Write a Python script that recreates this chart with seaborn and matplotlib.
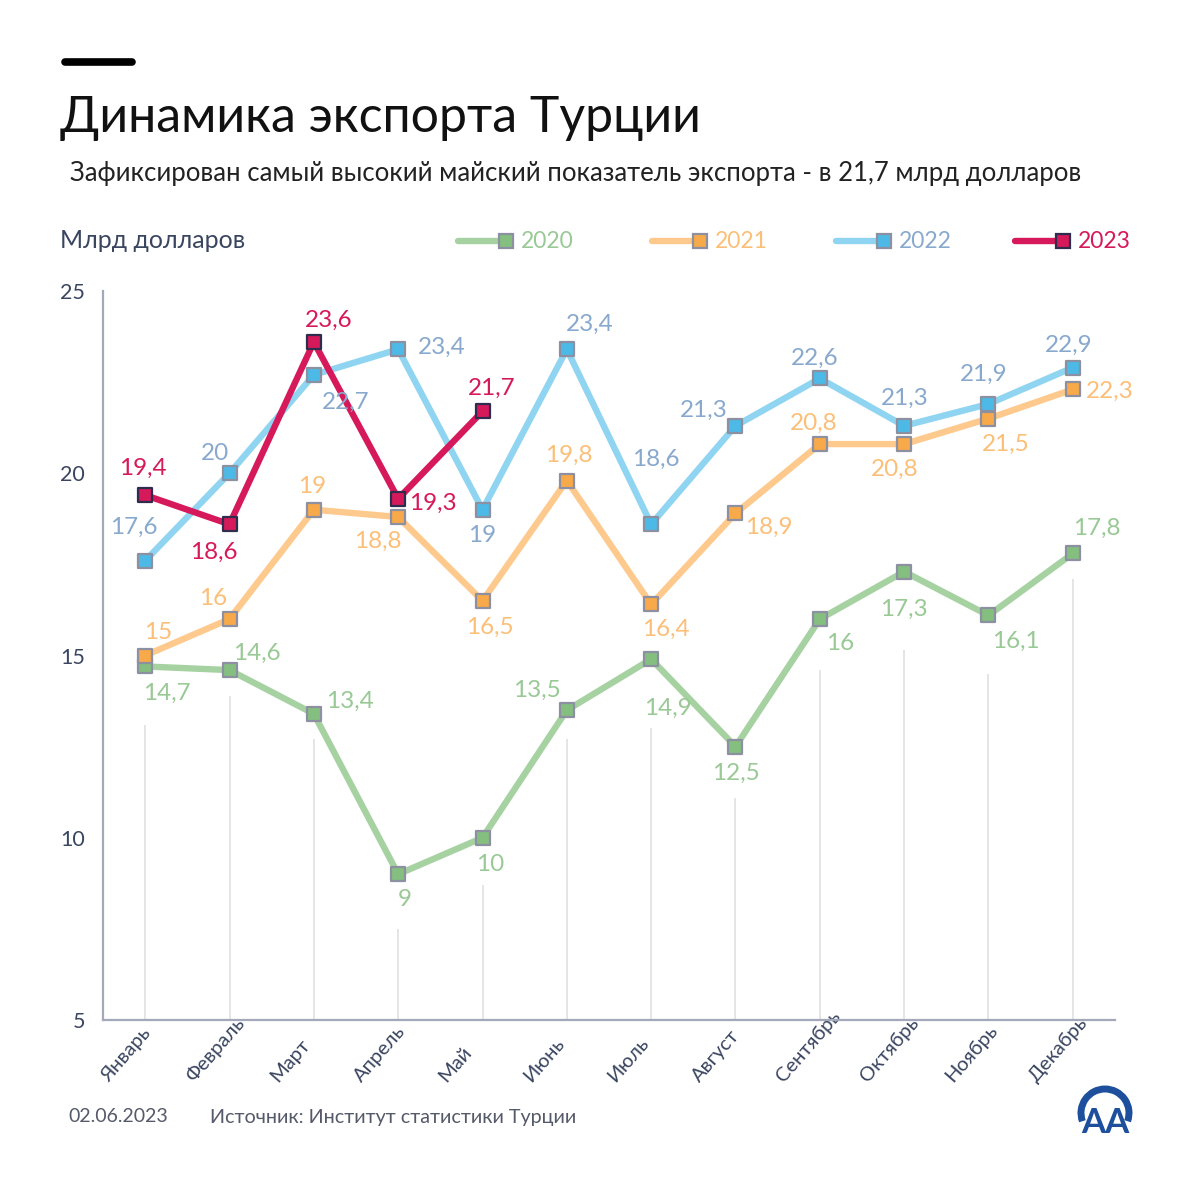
import matplotlib
matplotlib.use("Agg")
import matplotlib.pyplot as plt
import matplotlib.transforms as mtransforms
import seaborn as sns
import pandas as pd
from matplotlib.lines import Line2D
from matplotlib.patches import Arc

# ---------------- data ----------------
months = ["Январь", "Февраль", "Март", "Апрель", "Май", "Июнь", "Июль",
          "Август", "Сентябрь", "Октябрь", "Ноябрь", "Декабрь"]
exp_2020 = [14.7, 14.6, 13.4, 9, 10, 13.5, 14.9, 12.5, 16, 17.3, 16.1, 17.8]
exp_2021 = [15, 16, 19, 18.8, 16.5, 19.8, 16.4, 18.9, 20.8, 20.8, 21.5, 22.3]
exp_2022 = [17.6, 20, 22.7, 23.4, 19, 23.4, 18.6, 21.3, 22.6, 21.3, 21.9, 22.9]
exp_2023 = [19.4, 18.6, 23.6, 19.3, 21.7]
years = ["2020", "2021", "2022", "2023"]
yticks = [5, 10, 15, 20, 25]

series = {"2020": exp_2020, "2021": exp_2021, "2022": exp_2022, "2023": exp_2023}
rows = []
for y in years:
    for i, v in enumerate(series[y]):
        rows.append({"year": y, "idx": i, "month": months[i], "value": v})
df = pd.DataFrame(rows)

# ---------------- styles ----------------
line_col = {"2020": "#a6d2a2", "2021": "#fec98c", "2022": "#8fd4f0", "2023": "#d6195a"}
face_col = {"2020": "#84bf80", "2021": "#f8a949", "2022": "#4db9e6", "2023": "#d6195a"}
edge_col = {"2020": "#8c90a0", "2021": "#8c90a0", "2022": "#8c90a0", "2023": "#2e2d4d"}
lab_col = {"2020": "#99c995", "2021": "#fbbf78", "2022": "#88a9cd", "2023": "#d6195a"}

# label offsets in pixels (dx, dy up)
offsets = {
    "2020": [(22, -27), (27, 17), (36, 12), (7, -25), (8, -27), (-30, 20),
             (17, -49), (0, -27), (20, -24), (0, -38), (27, -26), (24, 25)],
    "2021": [(13, 23), (-16, 21), (-2, 23), (-20, -24), (7, -27), (2, 25),
             (15, -25), (33, -14), (-6, 21), (-9, -25), (17, -26), (37, -2)],
    "2022": [(-11, 33), (-14, 20), (32, -28), (44, 2), (0, -26), (23, 25),
             (5, 65), (-32, 16), (-5, 20), (1, 28), (-5, 30), (-4, 22)],
    "2023": [(-2, 27), (-16, -28), (15, 22), (35, -5), (9, 23)],
}
grid_gap = [1.6, 0.7, 0.7, 1.5, 1.3, 0.8, 1.9, 1.4, 1.4, 2.15, 1.6, 0.7]

sns.set_style("white")
plt.rcParams["font.family"] = ["Lato", "DejaVu Sans"]

W, H = 1200, 1184
fig = plt.figure(figsize=(W / 100, H / 100), dpi=100)
fig.patch.set_facecolor("white")


def fx(px):
    return px / W


def fy(py):
    return 1 - py / H


ax = fig.add_axes([fx(103), fy(1020), fx(1115 - 103), (1020 - 291) / H])

# vertical light grid lines under the 2020 values
for i, v in enumerate(exp_2020):
    ax.vlines(i, 5, v - grid_gap[i], color="#e3e3e6", lw=1.3, zorder=0)

for k, y in enumerate(years):
    sub = df[df["year"] == y]
    sns.lineplot(data=sub, x="idx", y="value", color=line_col[y], lw=4.6,
                 ax=ax, zorder=2 + k, legend=False, solid_capstyle="round")
    sns.scatterplot(data=sub, x="idx", y="value", marker="s", s=105,
                    color=face_col[y], edgecolor=edge_col[y], linewidth=1.6,
                    ax=ax, zorder=2.5 + k, legend=False)
    for (i, v), (dx, dy) in zip(enumerate(series[y]), offsets[y]):
        ax.annotate(f"{v:g}".replace(".", ","), (i, v), xytext=(dx, dy),
                    textcoords="offset pixels", ha="center", va="center",
                    fontsize=17.5, color=lab_col[y], zorder=10)

ax.set_xlim(-0.5, 11.5)
ax.set_ylim(5, 25)
ax.set_yticks(yticks)
ax.set_yticklabels([str(t) for t in yticks])
ax.set_xticks(range(len(months)))
ax.set_xticklabels(months, rotation=49, ha="left", va="baseline",
                   rotation_mode="anchor")
ax.set_xlabel("")
ax.set_ylabel("")
for s in ["top", "right"]:
    ax.spines[s].set_visible(False)
for s in ["left", "bottom"]:
    ax.spines[s].set_color("#a4a8bb")
    ax.spines[s].set_linewidth(1.6)
ax.tick_params(axis="y", direction="in", length=8, width=1.2, color="#cfd0d6",
               labelsize=15.5, labelcolor="#3a4560", pad=13)
ax.tick_params(axis="x", length=0, labelsize=14.5, labelcolor="#3a4560",
               pad=0)
shift = mtransforms.ScaledTranslation(-0.36, -0.63, fig.dpi_scale_trans)
for lab in ax.get_xticklabels():
    lab.set_transform(lab.get_transform() + shift)

# ---------------- texts ----------------
fig.add_artist(Line2D([fx(65), fx(132)], [fy(62), fy(62)], color="black",
                      lw=5.5, solid_capstyle="round"))
fig.text(fx(60), fy(118), "Динамика экспорта Турции", fontsize=36,
         color="#111111", va="center", ha="left")
fig.text(fx(70), fy(174), "Зафиксирован самый высокий майский показатель экспорта - в 21,7 млрд долларов",
         fontsize=18.5, color="#222222", va="center", ha="left")
fig.text(fx(60), fy(240), "Млрд долларов", fontsize=18, color="#3a4560",
         va="center", ha="left")

# legend
leg_x = {"2020": 458, "2021": 652, "2022": 836, "2023": 1015}
for y in years:
    x0 = leg_x[y]
    x1 = x0 + 48
    fig.add_artist(Line2D([fx(x0), fx(x1)], [fy(241), fy(241)], color=line_col[y],
                          lw=4.6, solid_capstyle="round"))
    fig.add_artist(Line2D([fx(x1)], [fy(241)], marker="s", markersize=10,
                          markerfacecolor=face_col[y], markeredgecolor=edge_col[y],
                          markeredgewidth=1.6, lw=0))
    fig.text(fx(x1 + 15), fy(241), y, fontsize=16.5, color=lab_col[y],
             va="center", ha="left")

# footer
fig.text(fx(68), fy(1117), "02.06.2023", fontsize=14, color="#555a6a",
         va="center", ha="left")
fig.text(fx(210), fy(1117), "Источник: Институт статистики Турции", fontsize=14.2,
         color="#555a6a", va="center", ha="left")

# logo
lax = fig.add_axes([fx(1075), fy(1142), fx(60), 60 / H])
lax.set_xlim(0, 60)
lax.set_ylim(0, 60)
lax.axis("off")
lax.add_patch(Arc((30, 29), 48, 48, theta1=-20, theta2=200, lw=5,
                  color="#1d4f9c"))
lax.text(30, 19, "AA", fontsize=25, fontweight="bold", color="#1d4f9c",
         ha="center", va="center")

fig.savefig("out.png", dpi=100, facecolor="white")
